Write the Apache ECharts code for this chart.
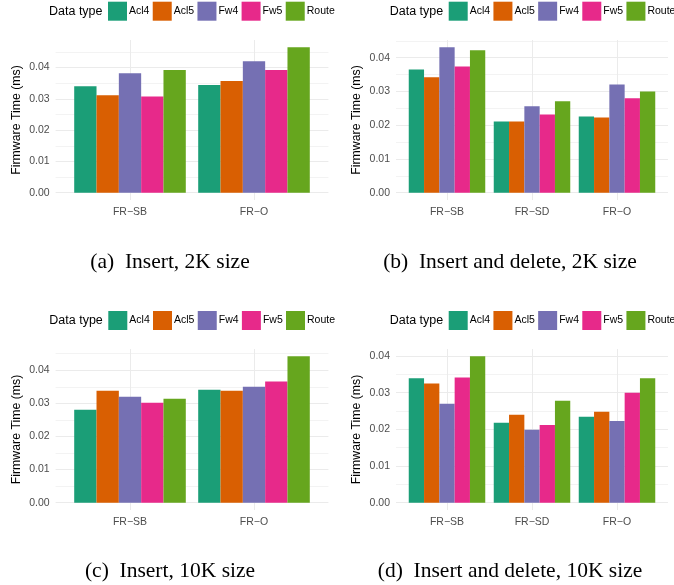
<!DOCTYPE html>
<html><head><meta charset="utf-8">
<script src="https://cdn.jsdelivr.net/npm/echarts@6/dist/echarts.min.js"></script>
<style>html,body{margin:0;padding:0;background:#fff;overflow:hidden}#c{width:674px;height:585px}</style>
</head><body><div id="c"></div>
<script>
// ---------- data ----------
const seriesNames = ['Acl4', 'Acl5', 'Fw4', 'Fw5', 'Route'];
const seriesColors = ['#1B9E77', '#D95F02', '#7570B3', '#E7298A', '#66A61E'];
const cats2 = ['FR\u2212SB', 'FR\u2212O'];
const cats3 = ['FR\u2212SB', 'FR\u2212SD', 'FR\u2212O'];
const legendTitle = 'Data type';
const yTitle = 'Firmware Time (ms)';
const captions = ['(a)  Insert, 2K size', '(b)  Insert and delete, 2K size',
                  '(c)  Insert, 10K size', '(d)  Insert and delete, 10K size'];
// rows: Acl4, Acl5, Fw4, Fw5, Route ; columns: categories
const insert2K = [
  [0.0340, 0.0344],
  [0.0312, 0.0357],
  [0.0382, 0.0420],
  [0.0308, 0.0392],
  [0.0392, 0.0465]
];
const insdel2K = [
  [0.0365, 0.0211, 0.0226],
  [0.0342, 0.0211, 0.0223],
  [0.0431, 0.0256, 0.0321],
  [0.0374, 0.0232, 0.0280],
  [0.0422, 0.0271, 0.0300]
];
const insert10K = [
  [0.0281, 0.0341],
  [0.0338, 0.0338],
  [0.0320, 0.0350],
  [0.0302, 0.0366],
  [0.0314, 0.0442]
];
const insdel10K = [
  [0.0339, 0.0218, 0.0234],
  [0.0325, 0.0240, 0.0248],
  [0.0270, 0.0199, 0.0223],
  [0.0341, 0.0212, 0.0300],
  [0.0399, 0.0278, 0.0339]
];

// ---------- layout ----------
const panels = [
  {cats: cats2, values: insert2K,  cap: captions[0], L: 55.6, R: 328.4, T: 40,  B: 200, legX: 108,   legY: 1.7, ttlX: 49,    ttlY: 11.7,  capX: 170, capY: 262},
  {cats: cats3, values: insdel2K,  cap: captions[1], L: 396,  R: 668,   T: 40,  B: 200, legX: 448.7, legY: 1.7, ttlX: 389.7, ttlY: 11.7,  capX: 510, capY: 262},
  {cats: cats2, values: insert10K, cap: captions[2], L: 55.6, R: 328.4, T: 349, B: 510, legX: 108.3, legY: 311, ttlX: 49.3,  ttlY: 320.7, capX: 170, capY: 571},
  {cats: cats3, values: insdel10K, cap: captions[3], L: 396,  R: 668,   T: 349, B: 510, legX: 448.7, legY: 311, ttlX: 389.7, ttlY: 320.7, capX: 510, capY: 571}
];
const SANS = '"Liberation Sans", Arial, Helvetica, sans-serif';
const SERIF = '"Liberation Serif", "Times New Roman", serif';
const GRID = '#EBEBEB', GRID_MINOR = '#F3F3F3';

const option = {animation: false, backgroundColor: '#ffffff', grid: [], xAxis: [], yAxis: [], series: [], legend: [], graphic: []};

panels.forEach((p) => {
  const n = p.cats.length;
  const band = (p.R - p.L) / (n + 0.2);
  const M = Math.max(...p.values.flat());
  const H = p.B - p.T;
  const zero = p.B - H * 0.05 / 1.1;
  const scale = (H / 1.1) / M;
  const topC = Math.floor(1.05 * M / 0.005 + 1e-9) * 0.005;

  // grid B: vertical grid lines + y title
  const gB = option.grid.length;
  option.grid.push({left: p.L, top: p.T, width: p.R - p.L, height: H, outerBoundsMode: 'none'});
  const nDummy = Math.round((n + 0.2) / 0.2) + 1;
  option.xAxis.push({gridIndex: gB, type: 'category', boundaryGap: false,
    data: Array.from({length: nDummy}, (_, i) => String(i)),
    axisLine: {show: false}, axisTick: {show: false}, axisLabel: {show: false},
    splitLine: {show: true, interval: (i) => i >= 3 && (i - 3) % 5 === 0, lineStyle: {color: GRID, width: 1}}});
  option.yAxis.push({gridIndex: gB, type: 'value', min: 0, max: 1,
    name: yTitle, nameLocation: 'middle', nameGap: 33,
    nameTextStyle: {fontSize: 12.3, color: '#000', fontFamily: SANS},
    axisLine: {show: false}, axisTick: {show: false}, axisLabel: {show: false}, splitLine: {show: false}});

  // grid C: horizontal grid lines + y labels
  const gC = gB + 1;
  option.grid.push({left: p.L, top: zero - topC * scale, width: p.R - p.L, height: topC * scale, outerBoundsMode: 'none'});
  option.xAxis.push({gridIndex: gC, type: 'value', min: 0, max: 1, show: false});
  option.yAxis.push({gridIndex: gC, type: 'value', min: 0, max: topC, interval: 0.005,
    axisLine: {show: false}, axisTick: {show: false},
    axisLabel: {margin: 6, color: '#4D4D4D', fontSize: 10.5, fontFamily: SANS,
      formatter: (v) => (Math.round(v / 0.005) % 2 === 0 ? v.toFixed(2) : '')},
    splitLine: {show: true, lineStyle: {color: [GRID, GRID_MINOR], width: 1}}});

  // grid A: bars
  const gA = gB + 2;
  option.grid.push({left: p.L + 0.1 * band, top: p.T, width: n * band, height: zero - p.T, outerBoundsMode: 'none'});
  option.xAxis.push({gridIndex: gA, type: 'category', data: p.cats,
    axisLine: {show: false}, axisTick: {show: false}, splitLine: {show: false},
    axisLabel: {margin: (p.B - zero) + 6.5, color: '#4D4D4D', fontSize: 10.5, fontFamily: SANS}});
  option.yAxis.push({gridIndex: gA, type: 'value', min: 0, max: 1.05 * M, show: false, splitLine: {show: false}});
  seriesNames.forEach((s, si) => option.series.push({
    type: 'bar', name: s, xAxisIndex: gA, yAxisIndex: gA, data: p.values[si],
    barCategoryGap: '10%', barGap: '0%', itemStyle: {color: seriesColors[si]},
    emphasis: {disabled: true}, z: 5}));

  option.legend.push({left: p.legX, top: p.legY, padding: 0, itemGap: 3.3, itemWidth: 19, itemHeight: 19,
    icon: 'rect', width: 420, data: seriesNames, selectedMode: false,
    textStyle: {fontSize: 10.5, color: '#000', fontFamily: SANS, padding: [0, 3, 0, -3]}});

  option.graphic.push({type: 'text', x: p.ttlX, y: p.ttlY, silent: true,
    style: {text: legendTitle, fontSize: 12.5, fontFamily: SANS, fill: '#000', align: 'left', verticalAlign: 'middle'}});
  option.graphic.push({type: 'text', x: p.capX, y: p.capY, silent: true,
    style: {text: p.cap, fontSize: 21.5, fontFamily: SERIF, fill: '#000', align: 'center', verticalAlign: 'middle'}});
});

const chart = echarts.init(document.getElementById('c'), null, {renderer: 'canvas'});
chart.setOption(option);
</script>
</body></html>
